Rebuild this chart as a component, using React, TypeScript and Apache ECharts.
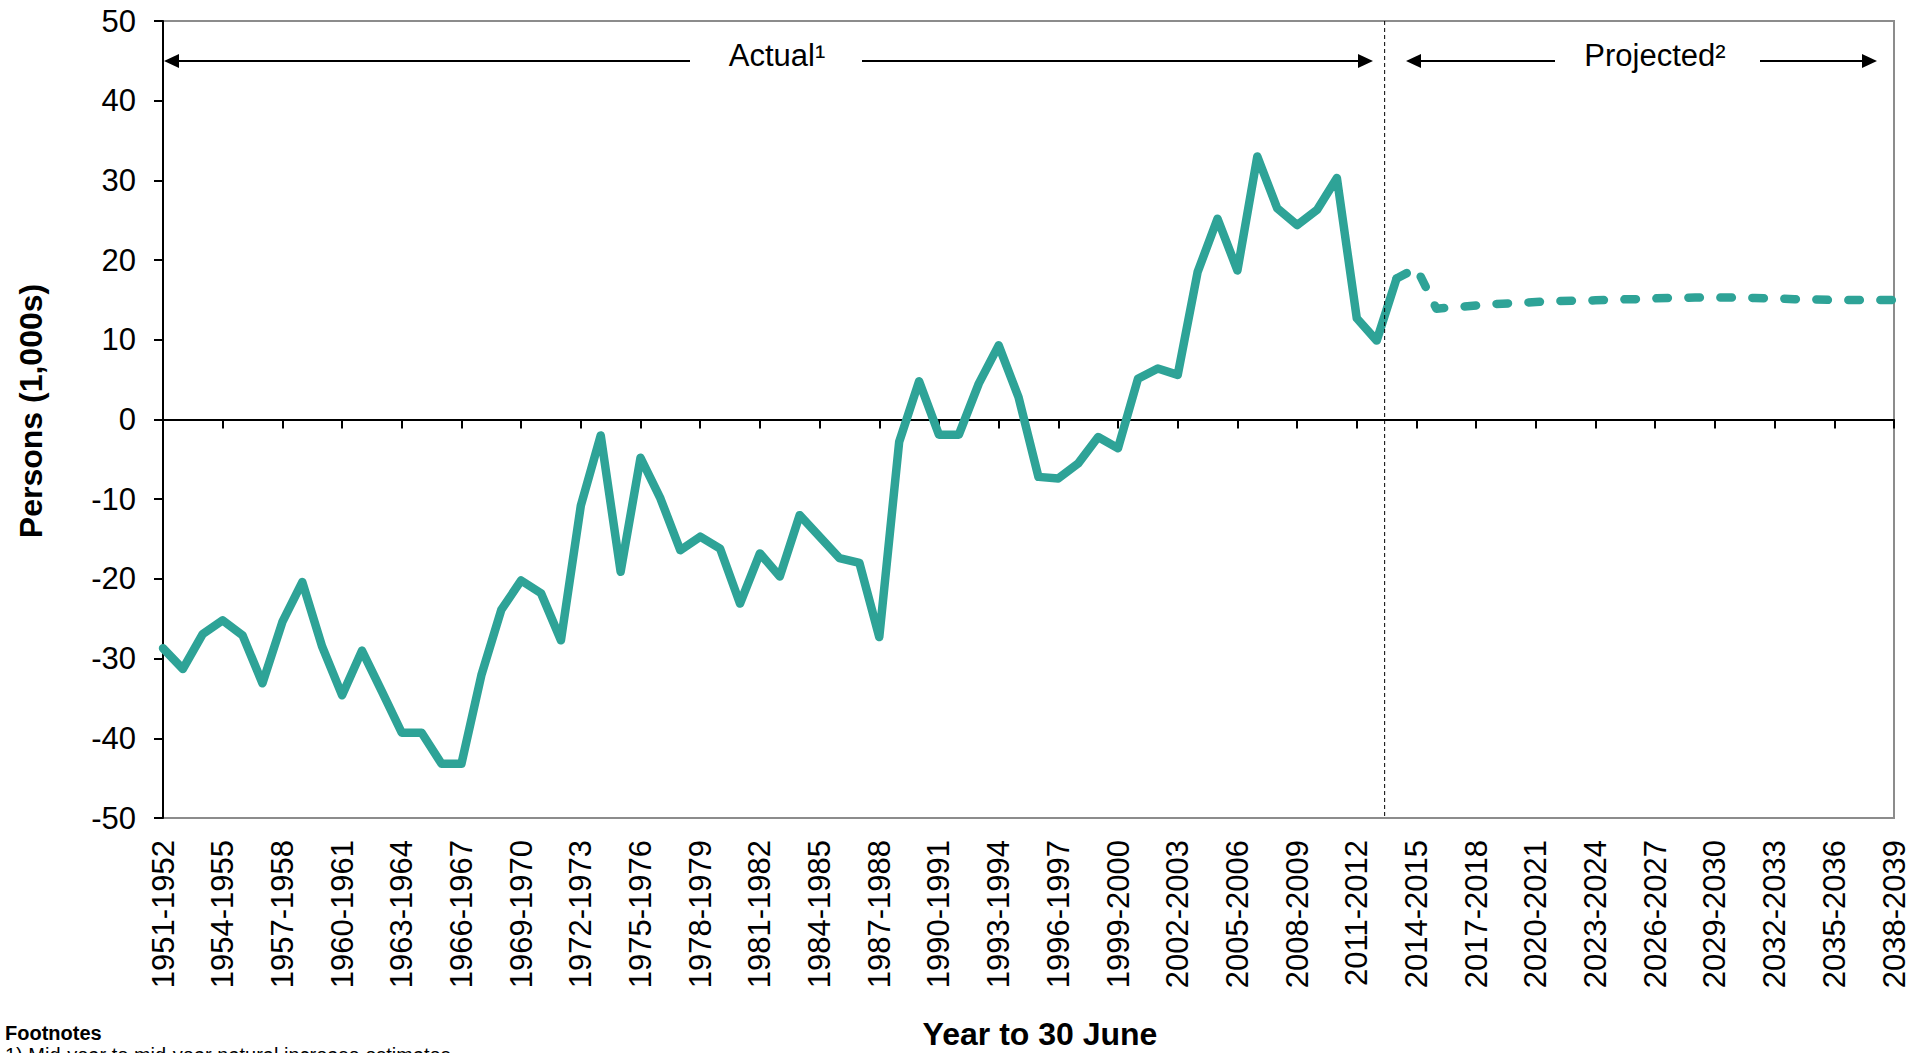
import React, { useEffect, useRef } from "react";
import * as echarts from "echarts";

// Categories: financial years "1951-1952" ... "2038-2039"
const firstYears: number[] = [];
for (let y = 1951; y <= 2038; y++) firstYears.push(y);
const categories: string[] = firstYears.map((y) => `${y}-${y + 1}`);

// Actual values (1951-1952 .. 2013-2014), thousands of persons
const actualValues: number[] = [
  -28.7, -31.3, -26.9, -25.2, -27.1, -33.1, -25.4, -20.4, -28.5, -34.6,
  -29.0, -34.1, -39.3, -39.3, -43.2, -43.2, -32.1, -23.9, -20.2, -21.8,
  -27.7, -10.8, -2.0, -19.1, -4.8, -9.9, -16.4, -14.7, -16.2, -23.1,
  -16.8, -19.7, -12.0, -14.7, -17.4, -18.0, -27.3, -2.8, 4.8, -1.9,
  -1.9, 4.5, 9.3, 2.8, -7.2, -7.4, -5.5, -2.2, -3.6, 5.1,
  6.4, 5.6, 18.5, 25.2, 18.7, 33.0, 26.5, 24.4, 26.3, 30.3,
  12.7, 9.9, 17.7,
];

// Projected values (2013-2014 .. 2038-2039)
const projectionStartIndex = 62;
const projectedValues: number[] = [
  17.7, 19.0, 13.9, 14.1, 14.3, 14.5, 14.6, 14.75, 14.85, 14.9,
  14.95, 15.05, 15.1, 15.2, 15.25, 15.3, 15.3, 15.3, 15.25, 15.2,
  15.1, 15.05, 15.0, 15.0, 15.0, 15.0,
];

const yMin = -50;
const yMax = 50;
const yInterval = 10;

const actualData = categories.map((_, i) => (i < actualValues.length ? actualValues[i] : null));
const projectedData = categories.map((_, i) =>
  i >= projectionStartIndex ? projectedValues[i - projectionStartIndex] : null
);

const TEAL = "#2ea397";
const FONT = "'Liberation Sans', Arial, Helvetica, sans-serif";

function txt(x: number, y: number, text: string, size: number, bold: boolean, align: string, valign: string, rotation = 0) {
  return {
    type: "text",
    x,
    y,
    rotation,
    z: 50,
    style: {
      text,
      fill: "#000",
      fontSize: size,
      fontFamily: FONT,
      fontWeight: bold ? "bold" : "normal",
      align,
      verticalAlign: valign,
      textAlign: align,
      textVerticalAlign: valign,
    },
  };
}

function arrow(tipX: number, tailX: number, y: number) {
  const d = tailX > tipX ? 1 : -1;
  return [
    {
      type: "line",
      z: 50,
      shape: { x1: tipX + d * 10, y1: y, x2: tailX, y2: y },
      style: { stroke: "#000", lineWidth: 2 },
    },
    {
      type: "polygon",
      z: 50,
      shape: { points: [[tipX, y], [tipX + d * 15, y - 7], [tipX + d * 15, y + 7]] },
      style: { fill: "#000" },
    },
  ];
}

export default function App() {
  const ref = useRef<HTMLDivElement>(null);

  useEffect(() => {
    document.body.style.margin = "0";
    const chart = echarts.init(ref.current as HTMLDivElement, null, { renderer: "svg" });
    chart.setOption({
      animation: false,
      backgroundColor: "#ffffff",
      textStyle: { fontFamily: FONT },
      grid: {
        left: 163,
        right: 35,
        top: 21,
        bottom: 235,
        show: true,
        borderColor: "#8c8c8c",
        borderWidth: 2,
        containLabel: false,
      },
      xAxis: [
        {
          type: "category",
          data: categories,
          boundaryGap: false,
          position: "bottom",
          axisLine: { show: false, onZero: false },
          axisTick: { show: false },
          splitLine: { show: false },
          axisLabel: { interval: 2, rotate: 90, fontSize: 31, color: "#000", margin: 22, fontFamily: FONT },
        },
        {
          type: "category",
          data: categories,
          boundaryGap: false,
          position: "bottom",
          axisLine: { show: true, onZero: true, onZeroAxisIndex: 0, lineStyle: { color: "#000", width: 2 } },
          axisTick: { show: true, interval: 2, length: 9, lineStyle: { color: "#000", width: 2 } },
          axisLabel: { show: false },
          splitLine: { show: false },
        },
      ],
      yAxis: {
        type: "value",
        min: yMin,
        max: yMax,
        interval: yInterval,
        axisLine: { show: true, onZero: false, lineStyle: { color: "#000", width: 2 } },
        axisTick: { show: true, length: 9, lineStyle: { color: "#000", width: 2 } },
        splitLine: { show: false },
        axisLabel: { fontSize: 31, color: "#000", margin: 27, fontFamily: FONT },
      },
      series: [
        {
          name: "Actual",
          type: "line",
          xAxisIndex: 0,
          data: actualData,
          symbol: "none",
          z: 3,
          lineStyle: { color: TEAL, width: 8.5, cap: "round", join: "round" },
        },
        {
          name: "Projected",
          type: "line",
          xAxisIndex: 0,
          data: projectedData,
          symbol: "none",
          z: 3,
          lineStyle: { color: TEAL, width: 8.5, type: [11.5, 20.5], cap: "round", join: "round" },
        },
      ],
    });

    const p61 = chart.convertToPixel({ gridIndex: 0 }, [61, yMax]) as number[];
    const p62 = chart.convertToPixel({ gridIndex: 0 }, [62, yMin]) as number[];
    const divX = p61[0] + 0.4 * (p62[0] - p61[0]);
    const topY = p61[1];
    const botY = p62[1];

    const arrowY = 61;
    chart.setOption({
      graphic: [
        {
          type: "line",
          z: 60,
          shape: { x1: divX, y1: topY, x2: divX, y2: botY },
          style: { stroke: "#000", lineWidth: 1, lineDash: [4, 3] },
        },
        ...arrow(164, 690, arrowY),
        ...arrow(1373, 862, arrowY),
        txt(777, 55, "Actual\u00b9", 31, false, "center", "middle"),
        ...arrow(1406, 1555, arrowY),
        ...arrow(1877, 1760, arrowY),
        txt(1655, 55, "Projected\u00b2", 31, false, "center", "middle"),
        txt(31, 411, "Persons (1,000s)", 32, true, "center", "middle", Math.PI / 2),
        txt(1040, 1034, "Year to 30 June", 32, true, "center", "middle"),
        txt(5, 1033, "Footnotes", 20, true, "left", "middle"),
        txt(5, 1045, "1) Mid-year to mid-year natural increase estimates.", 20, false, "left", "top"),
      ],
    });

    return () => {
      chart.dispose();
    };
  }, []);

  return (
    <div
      ref={ref}
      style={{ position: "fixed", left: 0, top: 0, width: 1929, height: 1053, background: "#fff" }}
    />
  );
}
